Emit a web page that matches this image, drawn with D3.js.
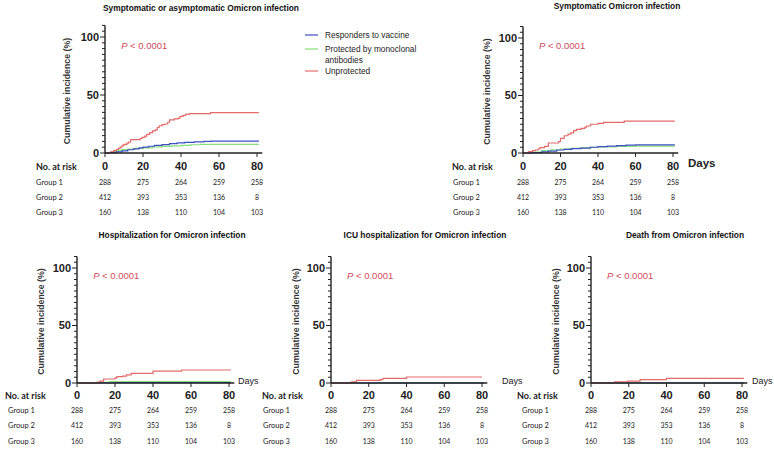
<!DOCTYPE html>
<html><head><meta charset="utf-8">
<script src="https://cdn.jsdelivr.net/npm/d3@7"></script>
<style>
html,body{margin:0;padding:0;background:#fff;}
svg{display:block;}
text{font-family:"Liberation Sans",Arial,sans-serif;}
.risk{font-family:Lato,"Open Sans",sans-serif;}
</style></head>
<body><svg id="c" width="774" height="451"></svg>
<script>
// ---- data ----
const panelTitles = [
  "Symptomatic or asymptomatic Omicron infection",
  "Symptomatic Omicron infection",
  "Hospitalization for Omicron infection",
  "ICU hospitalization for Omicron infection",
  "Death from Omicron infection"
];
const seriesNames = ["Responders to vaccine", "Protected by monoclonal antibodies", "Unprotected"];
const pValueLabel = "< 0.0001";
const xTicks = [0, 20, 40, 60, 80];
const yTicks = [0, 50, 100];
const riskLabels = ["Group 1", "Group 2", "Group 3"];
const group1Risk = [288, 275, 264, 259, 258];
const group2Risk = [412, 393, 353, 136, 8];
const group3Risk = [160, 138, 110, 104, 103];

// [day, cumulative incidence %]
const p1Vaccine = [[0,0],[3,0.3],[6,1],[9,1.8],[12,2.8],[15,3.6],[18,4.4],[20,5],[23,5.8],[26,6.5],[30,7.2],[34,8],[38,8.7],[42,9.2],[47,9.6],[52,10],[56,10.3],[81,10.3]];
const p1Mab = [[0,0],[3,0.8],[5,1.4],[7,2.2],[9,2.9],[12,3.4],[16,4],[20,4.5],[25,5.2],[30,5.7],[35,6.2],[40,6.6],[45,7.1],[50,7.5],[81,7.5]];
const p1Unprot = [[0,0],[3,1],[4.5,2],[6,3],[7,4],[8,5],[9,6.5],[10,7.5],[11.5,8.5],[12.5,9.5],[13.5,11.5],[18.5,12.5],[19.5,13.5],[21,14.5],[22,16],[23.5,17.5],[25,19],[26.5,20],[27.5,22],[28.5,23.5],[30,24.5],[31.5,25],[33,26.5],[34,28.5],[36.5,29.5],[38.5,30],[39.5,31.5],[41,32.5],[42.5,33.5],[44.5,34],[55.5,34.8],[81,34.8]];

const p2Vaccine = [[0,0],[5,0.4],[10,1],[13.5,1.7],[18,2.6],[22,3.2],[26,3.8],[31,4.3],[36,5],[40,5.5],[45,6],[50,6.4],[55,6.8],[60,7],[81,7]];
const p2Mab = [[0,0],[5,0.7],[10,2],[15,2.8],[20,3.5],[25,4],[30,4.5],[35,4.9],[40,5.2],[50,5.8],[60,6],[81,6]];
const p2Unprot = [[0,0],[3,1.2],[5,2],[6.5,2.6],[8,3.5],[9,4.6],[11.5,5.8],[13.5,8.7],[19,10],[20,12.8],[22,15],[24,16.5],[25.5,17.5],[27,19.5],[28.5,20.5],[31,21.4],[33,22.5],[34,23.5],[36,25],[40,25.8],[43,26.7],[54,27.8],[81,27.8]];

const p3Vaccine = [[0,0],[20,0.3],[81,0.3]];
const p3Mab = [[0,0],[10,0.5],[17,1.2],[81,1.2]];
const p3Unprot = [[0,0],[11,0.8],[12,1.7],[14,3.5],[20,4.5],[21,5.5],[24,6],[26,7],[28.5,8.4],[40,10.4],[55,11.3],[81,11.3]];

const p4Vaccine = [[0,0],[81,0]];
const p4Mab = [[0,0],[30,0.2],[81,0.2]];
const p4Unprot = [[0,0],[10,0.5],[11,1],[13.5,2.3],[26,3],[27.5,4],[40,5.2],[80,5.2]];

const p5Vaccine = [[0,0],[81,0]];
const p5Mab = [[0,0],[81,0.1]];
const p5Unprot = [[0,0],[9,0.4],[12.5,0.9],[19.5,1.7],[26,2.9],[40,4],[81,4]];

const panelSeries = [
  [p1Vaccine, p1Mab, p1Unprot],
  [p2Vaccine, p2Mab, p2Unprot],
  [p3Vaccine, p3Mab, p3Unprot],
  [p4Vaccine, p4Mab, p4Unprot],
  [p5Vaccine, p5Mab, p5Unprot]
];

// ---- layout / style ----
const colors = ["#3f4fc4", "#86e07a", "#e46a6a"];
const layout = [
  {ax:105, x80:257, y0:153, y100:37, titleX:201, titleY:11, riskX:36, groupX:36, tickY:170, rowY:[185,200,215], days:null, ylabX:70},
  {ax:523, x80:673, y0:153, y100:38, titleX:617, titleY:9, riskX:452, groupX:453, tickY:170, rowY:[185,200,215], days:{x:688,y:167,big:true}, ylabX:490},
  {ax:77, x80:229, y0:383, y100:268, titleX:172, titleY:238, riskX:5, groupX:8, tickY:399, rowY:[413,428,444], days:{x:238,y:384,big:false}, ylabX:44},
  {ax:331, x80:482, y0:383, y100:268, titleX:425, titleY:238, riskX:262, groupX:263, tickY:399, rowY:[413,428,444], days:{x:502,y:384,big:false}, ylabX:299},
  {ax:591, x80:742, y0:383, y100:268, titleX:685, titleY:238, riskX:517, groupX:522, tickY:399, rowY:[413,428,444], days:{x:752,y:384,big:false}, ylabX:559}
];

const svg = d3.select("#c");
const riskRows = [group1Risk, group2Risk, group3Risk];

layout.forEach((L, i) => {
  const x = d3.scaleLinear().domain([0, 80]).range([L.ax, L.x80]);
  const y = d3.scaleLinear().domain([0, 100]).range([L.y0, L.y100]);
  const g = svg.append("g");

  // title
  g.append("text").attr("x", L.titleX).attr("y", L.titleY).attr("text-anchor", "middle")
    .attr("font-size", 8.4).attr("font-weight", "bold").attr("fill", "#111").text(panelTitles[i]);

  // curves
  const line = d3.line().x(d => x(d[0])).y(d => y(d[1])).curve(d3.curveStepAfter);
  [1, 0, 2].forEach(s => {
    g.append("path").datum(panelSeries[i][s]).attr("d", line)
      .attr("fill", "none").attr("stroke", colors[s]).attr("stroke-width", 1.2);
  });

  // y axis
  const yAx = g.append("g");
  yAx.append("line").attr("x1", L.ax).attr("x2", L.ax).attr("y1", y(0)).attr("y2", y(110))
    .attr("stroke", "#222").attr("stroke-width", 1.4);
  d3.range(0, 111, 5).forEach(v => {
    const major = yTicks.includes(v);
    yAx.append("line").attr("x1", L.ax - (major ? 5 : 3)).attr("x2", L.ax)
      .attr("y1", y(v)).attr("y2", y(v)).attr("stroke", "#222").attr("stroke-width", 1);
  });
  yTicks.forEach(v => {
    yAx.append("text").attr("x", L.ax - 6).attr("y", y(v)).attr("dy", "0.36em")
      .attr("text-anchor", "end").attr("font-size", 11).attr("font-weight", "bold")
      .attr("fill", "#222").text(v);
  });
  // y label
  g.append("text").attr("transform", `translate(${L.ylabX},${(y(0) + y(100)) / 2 - 4}) rotate(-90)`)
    .attr("text-anchor", "middle").attr("font-size", 8.8).attr("font-weight", "bold")
    .attr("fill", "#333").text("Cumulative incidence (%)");

  // p value
  const pt = g.append("text").attr("x", x(8.5)).attr("y", y(93)).attr("dy", "0.36em")
    .attr("font-size", 9.5).attr("fill", "#d04a5e");
  pt.append("tspan").attr("font-style", "italic").text("P");
  pt.append("tspan").text(" " + pValueLabel);

  // x axis
  const xAx = g.append("g");
  xAx.append("line").attr("x1", L.ax).attr("x2", x(82.8)).attr("y1", L.y0).attr("y2", L.y0)
    .attr("stroke", "#222").attr("stroke-width", 1.4);
  xTicks.forEach(v => {
    xAx.append("line").attr("x1", x(v)).attr("x2", x(v)).attr("y1", L.y0).attr("y2", L.y0 + 4)
      .attr("stroke", "#222").attr("stroke-width", 1);
    xAx.append("text").attr("x", x(v)).attr("y", L.tickY).attr("text-anchor", "middle")
      .attr("font-size", 11).attr("font-weight", "bold").attr("fill", "#222").text(v);
  });
  if (L.days) {
    g.append("text").attr("x", L.days.x).attr("y", L.days.y).attr("font-size", L.days.big ? 11.5 : 9)
      .attr("font-weight", L.days.big ? "bold" : "normal").attr("fill", "#222").text("Days");
  }

  // risk table
  g.append("text").attr("class", "risk").attr("x", L.riskX).attr("y", L.tickY)
    .attr("font-size", 9).attr("font-weight", "bold").attr("fill", "#222").text("No. at risk");
  riskRows.forEach((row, r) => {
    g.append("text").attr("class", "risk").attr("x", L.groupX).attr("y", L.rowY[r])
      .attr("font-size", 7.5).attr("fill", "#222").text(riskLabels[r]);
    row.forEach((n, k) => {
      g.append("text").attr("class", "risk").attr("x", x(xTicks[k])).attr("y", L.rowY[r])
        .attr("text-anchor", "middle").attr("font-size", 7).attr("fill", "#222").text(n);
    });
  });
});

// legend
const legY = [35, 49, 71];
const lg = svg.append("g");
seriesNames.forEach((n, i) => {
  lg.append("line").attr("x1", 305).attr("x2", 318).attr("y1", legY[i]).attr("y2", legY[i])
    .attr("stroke", colors[i]).attr("stroke-width", 1.2);
});
const legText = [["Responders to vaccine"], ["Protected by monoclonal", "antibodies"], ["Unprotected"]];
legText.forEach((lines, i) => {
  lines.forEach((t, j) => {
    lg.append("text").attr("x", 325).attr("y", legY[i] + j * 11).attr("dy", "0.35em")
      .attr("font-size", 8.3).attr("fill", "#222").text(t);
  });
});
</script></body></html>
